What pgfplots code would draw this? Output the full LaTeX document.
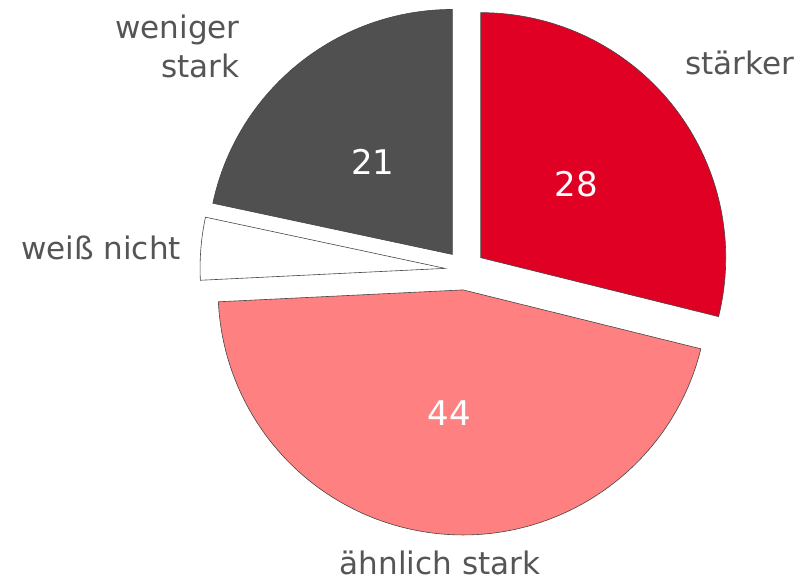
\documentclass[border=0pt]{standalone}
\usepackage{pgfplots}
\usepackage{pgfplotstable}
\pgfplotsset{compat=1.18}
\usetikzlibrary{calc}
\usepackage{fontspec}
\setmainfont{DejaVu Sans}
\definecolor{cRed}{RGB}{224,0,36}
\definecolor{cPink}{RGB}{255,128,128}
\definecolor{cGrey}{RGB}{80,80,80}
\definecolor{cEdge}{RGB}{70,70,70}
\definecolor{cText}{RGB}{85,85,85}

\pgfplotstableread{
label value
staerker 28
aehnlich 44
weissnicht 4
weniger 21
}\piedata

\begin{document}
\begin{tikzpicture}
\pgfplotstablegetelem{0}{value}\of\piedata \let\vA\pgfplotsretval
\pgfplotstablegetelem{1}{value}\of\piedata \let\vB\pgfplotsretval
\pgfplotstablegetelem{2}{value}\of\piedata \let\vC\pgfplotsretval
\pgfplotstablegetelem{3}{value}\of\piedata \let\vD\pgfplotsretval
\pgfmathsetmacro{\tot}{\vA+\vB+\vC+\vD}
\pgfmathsetmacro{\sA}{90}
\pgfmathsetmacro{\eA}{\sA-360*\vA/\tot}
\pgfmathsetmacro{\mA}{(\sA+\eA)/2}
\pgfmathsetmacro{\sB}{\eA}
\pgfmathsetmacro{\eB}{\sB-360*\vB/\tot}
\pgfmathsetmacro{\mB}{(\sB+\eB)/2}
\pgfmathsetmacro{\sC}{\eB}
\pgfmathsetmacro{\eC}{\sC-360*\vC/\tot}
\pgfmathsetmacro{\mC}{(\sC+\eC)/2}
\pgfmathsetmacro{\sD}{\eC}
\pgfmathsetmacro{\eD}{\sD-360*\vD/\tot}
\pgfmathsetmacro{\mD}{(\sD+\eD)/2}
\def\R{183.75pt}
\def\E{15pt}
\begin{axis}[x=0.75pt,y=0.75pt,xmin=0,xmax=802,ymin=0,ymax=581,
  hide axis,clip=false]
\path (axis cs:0,0) rectangle (axis cs:802,581);
\filldraw[fill=cRed,draw=cEdge,line width=0.45pt]
  ($(axis cs:465,311)+(\mA:\E)$) -- ++(\sA:\R) arc[start angle=\sA,end angle=\eA,radius=\R] -- cycle;
\filldraw[fill=cPink,draw=cEdge,line width=0.45pt]
  ($(axis cs:465,311)+(\mB:\E)$) -- ++(\sB:\R) arc[start angle=\sB,end angle=\eB,radius=\R] -- cycle;
\filldraw[fill=white,draw=cEdge,line width=0.45pt]
  ($(axis cs:465,311)+(\mC:\E)$) -- ++(\sC:\R) arc[start angle=\sC,end angle=\eC,radius=\R] -- cycle;
\filldraw[fill=cGrey,draw=cEdge,line width=0.45pt]
  ($(axis cs:465,311)+(\mD:\E)$) -- ++(\sD:\R) arc[start angle=\sD,end angle=\eD,radius=\R] -- cycle;
% category labels
\node[anchor=base,text=cText,font=\fontsize{23.3}{28}\selectfont,inner sep=0pt] at (axis cs:740,506) {stärker};
\node[anchor=base east,text=cText,font=\fontsize{23.3}{28}\selectfont,inner sep=0pt] at (axis cs:240,542) {weniger};
\node[anchor=base east,text=cText,font=\fontsize{23.3}{28}\selectfont,inner sep=0pt] at (axis cs:240,503) {stark};
\node[anchor=base,text=cText,font=\fontsize{23.3}{28}\selectfont,inner sep=0pt] at (axis cs:101,321) {weiß nicht};
\node[anchor=base,text=cText,font=\fontsize{23.3}{28}\selectfont,inner sep=0pt] at (axis cs:440,7) {ähnlich stark};
% value labels
\node[anchor=base,text=white,font=\fontsize{25.5}{30}\selectfont,inner sep=0pt] at (axis cs:576,384) {\vA};
\node[anchor=base,text=white,font=\fontsize{25.5}{30}\selectfont,inner sep=0pt] at (axis cs:449,155) {\vB};
\node[anchor=base,text=white,font=\fontsize{25.5}{30}\selectfont,inner sep=0pt] at (axis cs:373,406) {\vD};
\end{axis}
\end{tikzpicture}
\end{document}
